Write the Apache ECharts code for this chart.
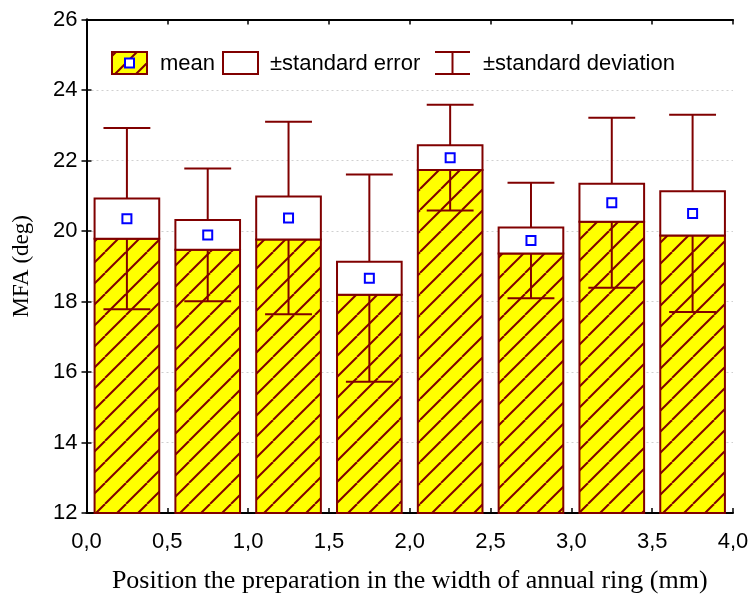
<!DOCTYPE html>
<html>
<head>
<meta charset="utf-8">
<script src="https://cdn.jsdelivr.net/npm/echarts@6/dist/echarts.min.js"></script>
<style>
html,body{margin:0;padding:0;background:#fff;}
#chart{width:751px;height:595px;}
</style>
</head>
<body>
<div id="chart"></div>
<script>
// ---- data ----
const positions = [0.25, 0.75, 1.25, 1.75, 2.25, 2.75, 3.25, 3.75];
const means     = [20.35, 19.89, 20.37, 18.66, 22.08, 19.73, 20.80, 20.50];
const stdErr    = [0.57, 0.42, 0.61, 0.47, 0.35, 0.37, 0.54, 0.63];
const stdDev    = [2.57, 1.88, 2.73, 2.94, 1.50, 1.64, 2.41, 2.80];
const legendLabels = ['mean', '±standard error', '±standard deviation'];
const xTitle = 'Position the preparation in the width of annual ring (mm)';
const yTitle = 'MFA (deg)';

const DARK = '#800000';
const YELLOW = '#FFFF00';
const BLUE = '#0000FF';

// hatch pattern
function makeHatch() {
  const s = 21;
  const c = document.createElement('canvas');
  c.width = s; c.height = s;
  const g = c.getContext('2d');
  g.fillStyle = YELLOW;
  g.fillRect(0, 0, s, s);
  g.strokeStyle = DARK;
  g.lineWidth = 2;
  for (const k of [-s, 0, s]) {
    g.beginPath();
    g.moveTo(k, s);
    g.lineTo(k + s, 0);
    g.stroke();
  }
  return c;
}
const hatch = { image: makeHatch(), repeat: 'repeat' };

const chart = echarts.init(document.getElementById('chart'), null, { renderer: 'canvas' });

function renderItem(params, api) {
  const x = api.value(0), m = api.value(1), se = api.value(2), sd = api.value(3);
  const bw = api.size([0.4, 0])[0];
  const cw = api.size([0.29, 0])[0];
  const base = api.coord([x, 12]);
  const lo = api.coord([x, m - se]);
  const hi = api.coord([x, m + se]);
  const sLo = api.coord([x, m - sd]);
  const sHi = api.coord([x, m + sd]);
  const c = api.coord([x, m]);
  const cx = base[0];
  const lineStyle = { stroke: DARK, lineWidth: 2 };
  return {
    type: 'group',
    children: [
      { type: 'rect', shape: { x: cx - bw / 2, y: lo[1], width: bw, height: base[1] - lo[1] },
        style: { fill: hatch, stroke: DARK, lineWidth: 2 } },
      { type: 'line', shape: { x1: cx, y1: sLo[1], x2: cx, y2: sHi[1] }, style: lineStyle },
      { type: 'line', shape: { x1: cx - cw / 2, y1: sLo[1], x2: cx + cw / 2, y2: sLo[1] }, style: lineStyle },
      { type: 'line', shape: { x1: cx - cw / 2, y1: sHi[1], x2: cx + cw / 2, y2: sHi[1] }, style: lineStyle },
      { type: 'rect', shape: { x: cx - bw / 2, y: hi[1], width: bw, height: lo[1] - hi[1] },
        style: { fill: '#fff', stroke: DARK, lineWidth: 2 } },
      { type: 'rect', shape: { x: c[0] - 4.5, y: c[1] - 4.5, width: 9, height: 9 },
        style: { fill: '#fff', stroke: BLUE, lineWidth: 2 } }
    ]
  };
}

const tickFont = { fontFamily: 'Liberation Sans, Arial, sans-serif', fontSize: 22, color: '#000' };
const axisLine = { show: true, lineStyle: { color: '#000', width: 2 } };
const axisTick = { show: true, inside: true, length: 5, lineStyle: { color: '#000', width: 1.5 } };
const legFont = '22px "Liberation Sans", Arial, sans-serif';

// legend (graphic)
const legY = 52, legH = 22;
const legendGraphic = [
  { type: 'rect', shape: { x: 112, y: legY, width: 35, height: legH }, style: { fill: hatch, stroke: DARK, lineWidth: 2 } },
  { type: 'rect', shape: { x: 125, y: legY + 6.5, width: 9, height: 9 }, style: { fill: '#fff', stroke: BLUE, lineWidth: 2 } },
  { type: 'text', x: 160, y: legY + legH / 2 + 1, style: { text: legendLabels[0], fill: '#000', font: legFont, verticalAlign: 'middle' } },
  { type: 'rect', shape: { x: 223, y: legY, width: 35, height: legH }, style: { fill: '#fff', stroke: DARK, lineWidth: 2 } },
  { type: 'text', x: 270, y: legY + legH / 2 + 1, style: { text: legendLabels[1], fill: '#000', font: legFont, verticalAlign: 'middle' } },
  { type: 'line', shape: { x1: 435, y1: legY, x2: 470, y2: legY }, style: { stroke: DARK, lineWidth: 2 } },
  { type: 'line', shape: { x1: 452.5, y1: legY, x2: 452.5, y2: legY + legH }, style: { stroke: DARK, lineWidth: 2 } },
  { type: 'line', shape: { x1: 435, y1: legY + legH, x2: 470, y2: legY + legH }, style: { stroke: DARK, lineWidth: 2 } },
  { type: 'text', x: 483, y: legY + legH / 2 + 1, style: { text: legendLabels[2], fill: '#000', font: legFont, verticalAlign: 'middle' } }
];

const option = {
  animation: false,
  backgroundColor: '#fff',
  grid: { left: 86.5, right: 18, top: 19.5, bottom: 82, containLabel: false, outerBoundsMode: 'none' },
  xAxis: [
    { type: 'value', min: 0, max: 4, interval: 0.5, position: 'bottom',
      axisLine, axisTick, splitLine: { show: false },
      axisLabel: { ...tickFont, margin: 18, formatter: v => v.toFixed(1).replace('.', ',') },
      name: xTitle, nameLocation: 'middle', nameGap: 55,
      nameTextStyle: { fontFamily: 'Liberation Serif, Times New Roman, serif', fontSize: 26, color: '#000' } },
    { type: 'value', min: 0, max: 4, interval: 0.5, position: 'top',
      axisLine, axisTick, splitLine: { show: false }, axisLabel: { show: false } }
  ],
  yAxis: [
    { type: 'value', min: 12, max: 26, interval: 2, position: 'left',
      axisLine, axisTick,
      splitLine: { show: true, lineStyle: { color: '#d0d0d0', type: [2, 3], width: 1 } },
      axisLabel: { ...tickFont, margin: 9 },
      name: yTitle, nameLocation: 'middle', nameGap: 53,
      nameTextStyle: { fontFamily: 'Liberation Serif, Times New Roman, serif', fontSize: 23, color: '#000' } },
    { type: 'value', min: 12, max: 26, interval: 2, position: 'right',
      axisLine, axisTick, splitLine: { show: false }, axisLabel: { show: false } }
  ],
  series: [{
    type: 'custom',
    renderItem,
    xAxisIndex: 0, yAxisIndex: 0,
    clip: false,
    data: positions.map((p, i) => [p, means[i], stdErr[i], stdDev[i]])
  }],
  graphic: legendGraphic
};
chart.setOption(option);
</script>
</body>
</html>
